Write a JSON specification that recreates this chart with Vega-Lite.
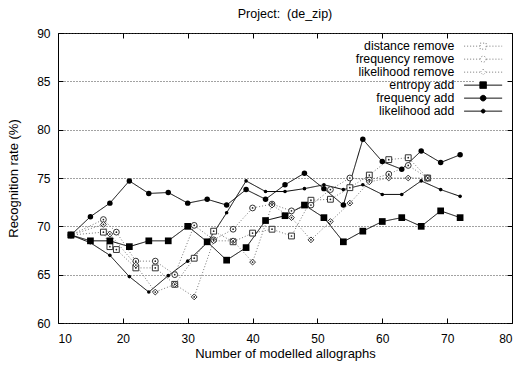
{
  "$schema": "https://vega.github.io/schema/vega-lite/v6.json",
  "width": 454,
  "height": 290,
  "autosize": {"type": "none"},
  "padding": {"left": 58, "top": 33, "right": 12, "bottom": 44},
  "title": {"text": "Project: \u00a0(de_zip)", "fontSize": 12.5, "fontWeight": "normal", "font": "Liberation Sans", "offset": 7, "anchor": "middle", "color": "#000"},
  "config": {
    "view": {"stroke": "#000", "strokeWidth": 1},
    "font": "Liberation Sans",
    "legend": {"rowPadding": -2},
    "axis": {"labelFont": "Liberation Sans", "titleFont": "Liberation Sans", "labelFontSize": 12, "titleFontSize": 13, "titleFontWeight": "normal", "labelColor": "#000", "titleColor": "#000", "tickColor": "#000", "domain": false}
  },
  "data": {"values": [
    {"s": "distance remove", "x": 12, "y": 69.1}, {"s": "distance remove", "x": 17, "y": 69.4}, {"s": "distance remove", "x": 18, "y": 67.9}, {"s": "distance remove", "x": 19, "y": 67.6}, {"s": "distance remove", "x": 22, "y": 65.7}, {"s": "distance remove", "x": 25, "y": 65.7}, {"s": "distance remove", "x": 28, "y": 64.0}, {"s": "distance remove", "x": 31, "y": 66.7}, {"s": "distance remove", "x": 34, "y": 69.5}, {"s": "distance remove", "x": 37, "y": 68.4}, {"s": "distance remove", "x": 40, "y": 69.3}, {"s": "distance remove", "x": 43, "y": 69.7}, {"s": "distance remove", "x": 46, "y": 69.0}, {"s": "distance remove", "x": 49, "y": 72.7}, {"s": "distance remove", "x": 52, "y": 72.8}, {"s": "distance remove", "x": 55, "y": 74.0}, {"s": "distance remove", "x": 58, "y": 75.3}, {"s": "distance remove", "x": 61, "y": 76.9}, {"s": "distance remove", "x": 64, "y": 77.1}, {"s": "distance remove", "x": 67, "y": 75.0},
    {"s": "frequency remove", "x": 12, "y": 69.1}, {"s": "frequency remove", "x": 17, "y": 70.7}, {"s": "frequency remove", "x": 19, "y": 69.4}, {"s": "frequency remove", "x": 22, "y": 66.4}, {"s": "frequency remove", "x": 25, "y": 66.4}, {"s": "frequency remove", "x": 28, "y": 65.0}, {"s": "frequency remove", "x": 31, "y": 70.1}, {"s": "frequency remove", "x": 34, "y": 68.6}, {"s": "frequency remove", "x": 37, "y": 69.7}, {"s": "frequency remove", "x": 40, "y": 71.9}, {"s": "frequency remove", "x": 43, "y": 72.3}, {"s": "frequency remove", "x": 46, "y": 71.6}, {"s": "frequency remove", "x": 49, "y": 72.2}, {"s": "frequency remove", "x": 52, "y": 73.8}, {"s": "frequency remove", "x": 55, "y": 75.0}, {"s": "frequency remove", "x": 58, "y": 74.8}, {"s": "frequency remove", "x": 61, "y": 75.4}, {"s": "frequency remove", "x": 64, "y": 76.3}, {"s": "frequency remove", "x": 67, "y": 75.0},
    {"s": "likelihood remove", "x": 12, "y": 69.1}, {"s": "likelihood remove", "x": 17, "y": 70.2}, {"s": "likelihood remove", "x": 18, "y": 69.2}, {"s": "likelihood remove", "x": 22, "y": 66.0}, {"s": "likelihood remove", "x": 25, "y": 63.2}, {"s": "likelihood remove", "x": 28, "y": 64.0}, {"s": "likelihood remove", "x": 31, "y": 62.7}, {"s": "likelihood remove", "x": 34, "y": 68.5}, {"s": "likelihood remove", "x": 37, "y": 68.5}, {"s": "likelihood remove", "x": 40, "y": 66.3}, {"s": "likelihood remove", "x": 43, "y": 72.2}, {"s": "likelihood remove", "x": 46, "y": 70.9}, {"s": "likelihood remove", "x": 49, "y": 68.6}, {"s": "likelihood remove", "x": 52, "y": 70.5}, {"s": "likelihood remove", "x": 55, "y": 72.4}, {"s": "likelihood remove", "x": 58, "y": 74.6}, {"s": "likelihood remove", "x": 61, "y": 75.0}, {"s": "likelihood remove", "x": 64, "y": 75.0}, {"s": "likelihood remove", "x": 67, "y": 75.0},
    {"s": "entropy add", "x": 12, "y": 69.1}, {"s": "entropy add", "x": 15, "y": 68.5}, {"s": "entropy add", "x": 18, "y": 68.5}, {"s": "entropy add", "x": 21, "y": 67.9}, {"s": "entropy add", "x": 24, "y": 68.5}, {"s": "entropy add", "x": 27, "y": 68.5}, {"s": "entropy add", "x": 30, "y": 70.0}, {"s": "entropy add", "x": 33, "y": 68.4}, {"s": "entropy add", "x": 36, "y": 66.5}, {"s": "entropy add", "x": 39, "y": 67.8}, {"s": "entropy add", "x": 42, "y": 70.6}, {"s": "entropy add", "x": 45, "y": 71.1}, {"s": "entropy add", "x": 48, "y": 72.2}, {"s": "entropy add", "x": 51, "y": 70.9}, {"s": "entropy add", "x": 54, "y": 68.4}, {"s": "entropy add", "x": 57, "y": 69.5}, {"s": "entropy add", "x": 60, "y": 70.5}, {"s": "entropy add", "x": 63, "y": 70.9}, {"s": "entropy add", "x": 66, "y": 70.0}, {"s": "entropy add", "x": 69, "y": 71.6}, {"s": "entropy add", "x": 72, "y": 70.9},
    {"s": "frequency add", "x": 12, "y": 69.1}, {"s": "frequency add", "x": 15, "y": 71.0}, {"s": "frequency add", "x": 18, "y": 72.4}, {"s": "frequency add", "x": 21, "y": 74.7}, {"s": "frequency add", "x": 24, "y": 73.4}, {"s": "frequency add", "x": 27, "y": 73.5}, {"s": "frequency add", "x": 30, "y": 72.4}, {"s": "frequency add", "x": 33, "y": 72.8}, {"s": "frequency add", "x": 36, "y": 72.2}, {"s": "frequency add", "x": 39, "y": 73.8}, {"s": "frequency add", "x": 42, "y": 72.8}, {"s": "frequency add", "x": 45, "y": 74.3}, {"s": "frequency add", "x": 48, "y": 75.5}, {"s": "frequency add", "x": 51, "y": 73.9}, {"s": "frequency add", "x": 54, "y": 72.2}, {"s": "frequency add", "x": 57, "y": 79.0}, {"s": "frequency add", "x": 60, "y": 76.7}, {"s": "frequency add", "x": 63, "y": 75.9}, {"s": "frequency add", "x": 66, "y": 77.8}, {"s": "frequency add", "x": 69, "y": 76.6}, {"s": "frequency add", "x": 72, "y": 77.4},
    {"s": "likelihood add", "x": 12, "y": 69.1}, {"s": "likelihood add", "x": 15, "y": 68.3}, {"s": "likelihood add", "x": 18, "y": 67.0}, {"s": "likelihood add", "x": 21, "y": 64.8}, {"s": "likelihood add", "x": 24, "y": 63.2}, {"s": "likelihood add", "x": 27, "y": 64.9}, {"s": "likelihood add", "x": 30, "y": 66.4}, {"s": "likelihood add", "x": 33, "y": 68.3}, {"s": "likelihood add", "x": 36, "y": 71.4}, {"s": "likelihood add", "x": 39, "y": 74.7}, {"s": "likelihood add", "x": 42, "y": 73.6}, {"s": "likelihood add", "x": 45, "y": 73.6}, {"s": "likelihood add", "x": 48, "y": 73.9}, {"s": "likelihood add", "x": 51, "y": 74.3}, {"s": "likelihood add", "x": 54, "y": 73.8}, {"s": "likelihood add", "x": 57, "y": 74.3}, {"s": "likelihood add", "x": 60, "y": 73.3}, {"s": "likelihood add", "x": 63, "y": 73.3}, {"s": "likelihood add", "x": 66, "y": 74.7}, {"s": "likelihood add", "x": 69, "y": 73.8}, {"s": "likelihood add", "x": 72, "y": 73.1}
  ]},
  "layer": [
    {
      "mark": {"type": "line", "strokeWidth": 1},
      "encoding": {
        "x": {"field": "x", "type": "quantitative", "scale": {"domain": [10, 80], "nice": false, "zero": false},
              "axis": {"orient": "bottom", "values": [10, 20, 30, 40, 50, 60, 70, 80], "grid": false, "tickSize": -5, "labelPadding": 15, "title": "Number of modelled allographs", "titlePadding": 3}},
        "y": {"field": "y", "type": "quantitative", "scale": {"domain": [60, 90], "nice": false, "zero": false},
              "axis": {"orient": "left", "values": [60, 65, 70, 75, 80, 85, 90], "grid": true, "gridDash": [1, 2], "gridColor": "#444", "tickSize": -5, "labelPadding": 13, "title": "Recognition rate (%)", "titlePadding": 16}},
        "color": {"field": "s", "type": "nominal",
          "scale": {"domain": ["distance remove", "frequency remove", "likelihood remove", "entropy add", "frequency add", "likelihood add"], "range": ["#777", "#777", "#777", "#000", "#000", "#000"]},
          "legend": {"title": null, "orient": "top-right", "offset": 5, "padding": 2, "fillColor": "white", "labelFontSize": 12.3, "labelFont": "Liberation Sans", "labelColor": "#000", "labelAlign": "right", "labelOffset": -35, "labelLimit": 400, "symbolSize": 64, "symbolStrokeWidth": 1, "rowPadding": -2,
            "encode": {"symbols": {"update": {
              "shape": {"signal": "datum.value === 'distance remove' ? 'M-4.75,0H-0.82M0.82,0H4.75M-0.75,-0.75H0.75V0.75H-0.75Z' : datum.value === 'frequency remove' ? 'M-4.75,0H-0.82M0.82,0H4.75M0.75,0A0.75,0.75 0 1,1 -0.75,0A0.75,0.75 0 1,1 0.75,0Z' : datum.value === 'likelihood remove' ? 'M-4.75,0H-0.75M0.75,0H4.75M0,-0.7L0.7,0L0,0.7L-0.7,0Z' : datum.value === 'entropy add' ? 'M-4.75,0H4.75M-0.82,-0.82H0.82V0.82H-0.82Z' : datum.value === 'frequency add' ? 'M-4.75,0H4.75M0.7,0A0.7,0.7 0 1,1 -0.7,0A0.7,0.7 0 1,1 0.7,0Z' : 'M-4.75,0H4.75M0.47,0A0.47,0.47 0 1,1 -0.47,0A0.47,0.47 0 1,1 0.47,0Z'"},
              "fill": {"signal": "indexof(datum.value, 'remove') >= 0 ? 'white' : 'black'"},
              "stroke": {"signal": "indexof(datum.value, 'remove') >= 0 ? '#444' : 'black'"},
              "strokeDash": {"signal": "indexof(datum.value, 'remove') >= 0 ? [1, 1.2] : [1, 0]"},
              "size": {"value": 64},
              "opacity": {"value": 1}
            }}}
          }},
        "strokeDash": {"field": "s", "type": "nominal",
          "scale": {"domain": ["distance remove", "frequency remove", "likelihood remove", "entropy add", "frequency add", "likelihood add"], "range": [[1, 2], [1, 2], [1, 2], [1, 0], [1, 0], [1, 0]]},
          "legend": null}
      }
    },
    {
      "transform": [{"filter": "indexof(datum.s, 'remove') >= 0"}],
      "mark": {"type": "point", "filled": true, "fill": "white", "stroke": "#333", "strokeWidth": 1, "size": 34, "opacity": 1},
      "encoding": {
        "x": {"field": "x", "type": "quantitative", "axis": null},
        "y": {"field": "y", "type": "quantitative", "axis": null},
        "shape": {"field": "s", "type": "nominal", "scale": {"domain": ["distance remove", "frequency remove", "likelihood remove"], "range": ["square", "circle", "diamond"]}, "legend": null}
      }
    },
    {
      "transform": [{"filter": "indexof(datum.s, 'remove') >= 0"}],
      "mark": {"type": "circle", "size": 3, "color": "#222", "opacity": 1},
      "encoding": {
        "x": {"field": "x", "type": "quantitative", "axis": null},
        "y": {"field": "y", "type": "quantitative", "axis": null}
      }
    },
    {
      "transform": [{"filter": "datum.s === 'entropy add'"}],
      "mark": {"type": "point", "shape": "square", "filled": true, "color": "#000", "size": 45, "opacity": 1},
      "encoding": {
        "x": {"field": "x", "type": "quantitative", "axis": {"orient": "top", "values": [10, 20, 30, 40, 50, 60, 70, 80], "labels": false, "grid": false, "tickSize": -5, "title": null}},
        "y": {"field": "y", "type": "quantitative", "axis": {"orient": "right", "values": [60, 65, 70, 75, 80, 85, 90], "labels": false, "grid": false, "tickSize": -5, "title": null}}
      }
    },
    {
      "transform": [{"filter": "datum.s === 'frequency add'"}],
      "mark": {"type": "circle", "color": "#000", "size": 30, "opacity": 1},
      "encoding": {
        "x": {"field": "x", "type": "quantitative", "axis": null},
        "y": {"field": "y", "type": "quantitative", "axis": null}
      }
    },
    {
      "transform": [{"filter": "datum.s === 'likelihood add'"}],
      "mark": {"type": "circle", "color": "#000", "size": 13, "opacity": 1},
      "encoding": {
        "x": {"field": "x", "type": "quantitative", "axis": null},
        "y": {"field": "y", "type": "quantitative", "axis": null}
      }
    }
  ]
}
